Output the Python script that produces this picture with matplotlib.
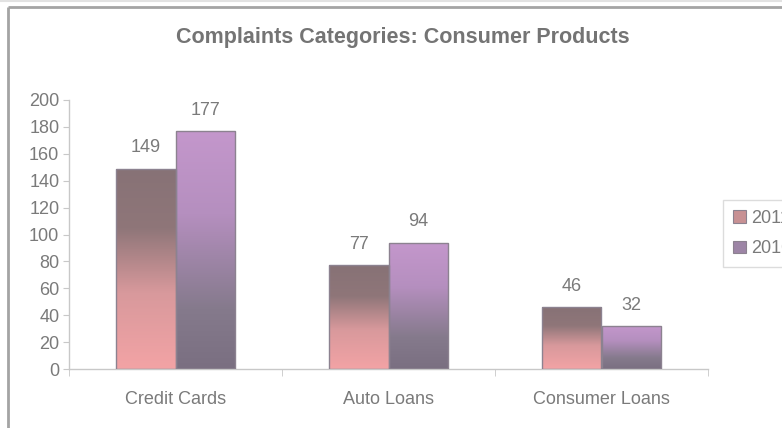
import numpy as np
import matplotlib
matplotlib.use("Agg")
import matplotlib.pyplot as plt
from matplotlib.colors import LinearSegmentedColormap
from matplotlib.patches import Rectangle
from matplotlib.lines import Line2D

categories = ["Credit Cards", "Auto Loans", "Consumer Loans"]
series_names = ["2011", "2010"]
values_2011 = [149, 77, 46]
values_2010 = [177, 94, 32]
y_ticks = [0, 20, 40, 60, 80, 100, 120, 140, 160, 180, 200]
title = "Complaints Categories: Consumer Products"

plt.rcParams["font.family"] = ["Liberation Sans", "DejaVu Sans"]

TEXT = "#7a7a7a"
AXIS = "#c8c8c8"

# vertical gradients (top -> bottom) for each series
cmap_2011 = LinearSegmentedColormap.from_list(
    "g2011", [(0.0, "#877276"), (0.3, "#8f7679"), (0.62, "#d8999c"), (1.0, "#f3a3a5")])
cmap_2010 = LinearSegmentedColormap.from_list(
    "g2010", [(0.0, "#c497cc"), (0.35, "#b58fbf"), (0.75, "#857a8c"), (1.0, "#7a6f81")])

fig = plt.figure(figsize=(7.82, 4.28), dpi=100)
fig.patch.set_facecolor("white")

# chart frame
fig.add_artist(Line2D([0, 1], [1 - 1.0 / 428, 1 - 1.0 / 428], color="#e2e2e2", lw=1.5,
                      transform=fig.transFigure))
fig.add_artist(Line2D([8.0 / 782, 8.0 / 782], [0, 1 - 7.0 / 428], color="#a4a4a4", lw=2.0,
                      transform=fig.transFigure, solid_capstyle="butt"))
fig.add_artist(Line2D([8.0 / 782, 1], [1 - 7.0 / 428, 1 - 7.0 / 428], color="#a4a4a4", lw=2.0,
                      transform=fig.transFigure, solid_capstyle="butt"))

ax = fig.add_axes([69 / 782, 1 - 369 / 428, (708 - 69) / 782, (369 - 100) / 428])

x = np.arange(len(categories))
width = 0.28
grad = np.linspace(0, 1, 256).reshape(-1, 1)

legend_handles = []
for offset, vals, cmap, name in [(-width / 2, values_2011, cmap_2011, "2011"),
                                 (width / 2, values_2010, cmap_2010, "2010")]:
    bars = ax.bar(x + offset, vals, width, facecolor="none", edgecolor="#8c8290",
                  linewidth=1.0, zorder=3, label=name)
    for bar, v in zip(bars, vals):
        x0 = bar.get_x()
        im = ax.imshow(grad, cmap=cmap, aspect="auto", origin="upper",
                       extent=[x0, x0 + bar.get_width(), 0, v], zorder=2,
                       interpolation="bilinear")
        im.set_clip_path(Rectangle((x0, 0), bar.get_width(), v, transform=ax.transData))
        ax.text(x0 + bar.get_width() / 2, v + 9, f"{v}", ha="center", va="bottom",
                fontsize=13, color=TEXT)
    legend_handles.append(Rectangle((0, 0), 1, 1, facecolor=cmap(0.55),
                                    edgecolor="#8c8290", lw=0.8))

ax.set_xlim(-0.5, len(categories) - 0.5)
ax.set_ylim(0, 200)

for side in ["top", "right"]:
    ax.spines[side].set_visible(False)
for side in ["left", "bottom"]:
    ax.spines[side].set_color(AXIS)
    ax.spines[side].set_linewidth(1.0)

ax.set_yticks(y_ticks)
ax.set_yticklabels([str(t) for t in y_ticks])
ax.tick_params(axis="y", colors=AXIS, labelcolor=TEXT, labelsize=13, length=4, pad=3)

ax.set_xticks(x)
ax.set_xticklabels(categories)
ax.tick_params(axis="x", length=0, labelcolor=TEXT, labelsize=13, pad=16)
ax.set_xticks(np.arange(-0.5, len(categories), 1.0), minor=True)
ax.tick_params(axis="x", which="minor", length=5, colors=AXIS)

fig.text(403 / 782, 1 - 37 / 428, title, ha="center", va="center",
         fontsize=15.5, fontweight="bold", color="#747474")

leg = fig.legend(legend_handles, series_names, loc="upper left",
                 bbox_to_anchor=(723 / 782, 1 - 200 / 428), borderaxespad=0,
                 fontsize=13, frameon=True, fancybox=False, handlelength=0.7,
                 handleheight=0.7, handletextpad=0.3, borderpad=0.55,
                 labelspacing=0.75, labelcolor=TEXT)
leg.get_frame().set_edgecolor("#d4d4d4")
leg.get_frame().set_linewidth(1.0)

fig.savefig("out.png", dpi=100, facecolor="white")
